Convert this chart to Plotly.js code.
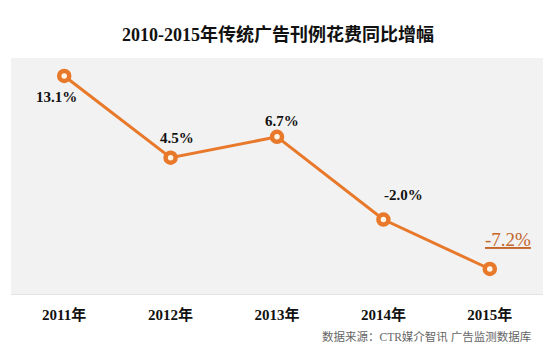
<!DOCTYPE html>
<html>
<head>
<meta charset="utf-8">
<script src="https://cdn.plot.ly/plotly-3.0.1.min.js"></script>
<style>html,body{margin:0;padding:0;background:#fff;}</style>
</head>
<body>
<div id="chart" style="width:556px;height:360px;"></div>
<script>
const categories = ['2011年', '2012年', '2013年', '2014年', '2015年'];
const values = [13.1, 4.5, 6.7, -2.0, -7.2];
const labels = ['13.1%', '4.5%', '6.7%', '-2.0%', '-7.2%'];
const titleText = '2010-2015年传统广告刊例花费同比增幅';
const sourceText = '数据来源：CTR媒介智讯 广告监测数据库';

const orange = '#e8792b';
const serif = 'Liberation Serif, Noto Sans CJK SC, serif';
const shifts = [[-8, -21], [6, 20], [5, 16], [20, 25], [18, 29]];

const annotations = labels.map((t, i) => {
  const last = i === labels.length - 1;
  return {
    x: categories[i], y: values[i], xref: 'x', yref: 'y',
    text: last ? '<u>' + t + '</u>' : '<b>' + t + '</b>',
    showarrow: false, xshift: shifts[i][0], yshift: shifts[i][1],
    font: {family: serif, size: last ? 19 : 15, color: last ? '#c4652a' : '#111'}
  };
});
annotations.push({
  x: 0.981, y: -0.178, xref: 'paper', yref: 'paper', xanchor: 'right', yanchor: 'middle',
  text: sourceText, showarrow: false,
  font: {family: 'Liberation Serif, Noto Sans CJK SC, serif', size: 11.5, color: '#666'}
});

const trace = {
  x: categories, y: values, type: 'scatter', mode: 'lines+markers',
  line: {color: orange, width: 3},
  marker: {size: 10, color: '#fff6e8', line: {color: orange, width: 4.5}},
  hoverinfo: 'none'
};

const layout = {
  width: 556, height: 360,
  margin: {l: 11, r: 13, t: 58, b: 66},
  paper_bgcolor: '#ffffff', plot_bgcolor: '#f2f2f2',
  showlegend: false,
  title: {text: titleText, x: 0.5, xanchor: 'center', y: 1 - 35/360, yanchor: 'middle', yref: 'container',
    font: {family: serif, size: 18, color: '#111', weight: 'bold'}},
  xaxis: {type: 'category', range: [-0.5, 4.5], showgrid: false, zeroline: false,
    showline: true, linecolor: '#e4e4e4', linewidth: 1,
    ticks: 'outside', ticklen: 7, tickcolor: 'rgba(0,0,0,0)',
    tickfont: {family: serif, size: 15, color: '#111', weight: 'bold'}},
  yaxis: {range: [-9.83, 14.99], showgrid: false, zeroline: false, showticklabels: false, showline: false},
  annotations: annotations
};

Plotly.newPlot('chart', [trace], layout, {displayModeBar: false, staticPlot: true});
</script>
</body>
</html>
